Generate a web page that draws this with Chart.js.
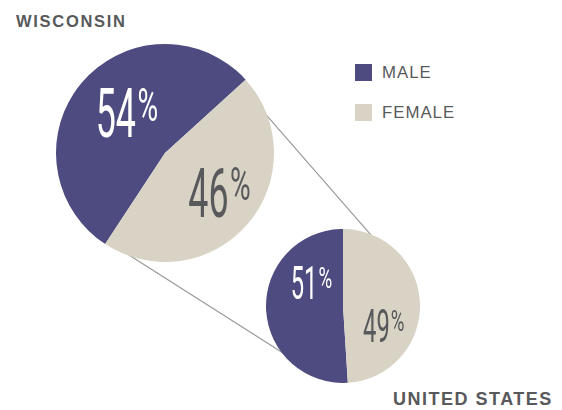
<!DOCTYPE html>
<html>
<head>
<meta charset="utf-8">
<script src="https://cdn.jsdelivr.net/npm/chart.js@4.4.1/dist/chart.umd.min.js"></script>
<style>
  body { margin: 0; background: #fff; }
  #wrap { position: relative; width: 562px; height: 410px; overflow: hidden;
          font-family: 'Liberation Sans', Arial, sans-serif; color: #58595b; }
  canvas { position: absolute; }
  #chartWI { left: 0; top: 0; z-index: 1; }
  #chartUS { left: 266px; top: 229px; z-index: 2; }
  .titulo { position: absolute; font-weight: bold; line-height: 1; white-space: nowrap; }
  .item { position: absolute; left: 355px; height: 17px; white-space: nowrap; }
  .item span.q { position: absolute; left: 0; top: 0; width: 17px; height: 17px; }
  .item span.t { position: absolute; left: 27px; top: 1px; font-size: 16.8px; line-height: 1; letter-spacing: 1px; }
</style>
</head>
<body>
<div id="wrap">
  <canvas id="chartWI" width="562" height="410"></canvas>
  <canvas id="chartUS" width="154" height="154"></canvas>
  <div class="titulo" style="left:16px; top:12.6px; font-size:16.5px; letter-spacing:1.7px;">WISCONSIN</div>
  <div class="titulo" style="left:393px; top:389.8px; font-size:18px; letter-spacing:1.5px;">UNITED STATES</div>
  <div id="legenda"></div>
</div>
<script>
// dados
const categorias = ['MALE', 'FEMALE'];
const wisconsin = [54, 46];
const estadosUnidos = [51, 49];

// estilos
const cores = ['#4d4b80', '#d9d3c6'];
const coresTexto = ['#ffffff', '#58595b'];

// legenda em HTML
const legenda = document.getElementById('legenda');
categorias.forEach((c, i) => {
  const d = document.createElement('div');
  d.className = 'item';
  d.style.top = (64 + i * 40) + 'px';
  d.innerHTML = '<span class="q" style="background:' + cores[i] + '"></span><span class="t">' + c + '</span>';
  legenda.appendChild(d);
});

// desenha "54%" com fonte estreita (escala horizontal)
function desenhaPercentual(ctx, valor, x, y, h, cor) {
  const fs = h / 0.711, fp = fs * 0.66;
  const sx = 0.52, sp = 0.62, gap = h * 0.03;
  ctx.save();
  ctx.fillStyle = cor;
  ctx.textBaseline = 'alphabetic';
  ctx.textAlign = 'left';
  ctx.font = fs + 'px Roboto';
  const wd = ctx.measureText(String(valor)).width * sx;
  ctx.font = fp + 'px Roboto';
  const wp = ctx.measureText('%').width * sp;
  const x0 = x - (wd + gap + wp) / 2;

  ctx.save();
  ctx.translate(x0, y + h / 2);
  ctx.scale(sx, 1);
  ctx.font = fs + 'px Roboto';
  ctx.fillText(String(valor), 0, 0);
  ctx.restore();

  ctx.save();
  ctx.translate(x0 + wd + gap, y - h / 2 + fp * 0.711);
  ctx.scale(sp, 1);
  ctx.font = fp + 'px Roboto';
  ctx.fillText('%', 0, 0);
  ctx.restore();
  ctx.restore();
}

// rótulos dentro das fatias
const rotulos = {
  id: 'rotulos',
  afterDatasetsDraw(chart, args, opts) {
    const ctx = chart.ctx;
    const arc = chart.getDatasetMeta(0).data[0];
    const r = arc.outerRadius;
    chart.data.datasets[0].data.forEach((v, i) => {
      const p = opts.posicoes[i];
      desenhaPercentual(ctx, v, arc.x + p[0] * r, arc.y + p[1] * r, opts.altura, coresTexto[i]);
    });
  }
};

// linhas ligando as duas pizzas
const ligacoes = {
  id: 'ligacoes',
  beforeDatasetsDraw(chart, args, opts) {
    const outro = opts.alvo;
    if (!outro) return;
    const a = chart.getDatasetMeta(0).data[0];
    const b = outro.getDatasetMeta(0).data[0];
    const bx = outro.canvas.offsetLeft + b.x, by = outro.canvas.offsetTop + b.y;
    const ctx = chart.ctx;
    ctx.save();
    ctx.strokeStyle = '#9a9a9a';
    ctx.lineWidth = 1.2;
    opts.angulos.forEach(([a1, a2]) => {
      const t1 = a1 * Math.PI / 180, t2 = a2 * Math.PI / 180;
      ctx.beginPath();
      ctx.moveTo(a.x + Math.cos(t1) * (a.outerRadius - 2), a.y + Math.sin(t1) * (a.outerRadius - 2));
      ctx.lineTo(bx + Math.cos(t2) * (b.outerRadius - 2), by + Math.sin(t2) * (b.outerRadius - 2));
      ctx.stroke();
    });
    ctx.restore();
  }
};

// Estados Unidos (pizza menor)
const graficoUS = new Chart(document.getElementById('chartUS').getContext('2d'), {
  type: 'pie',
  data: {
    labels: categorias,
    datasets: [{ data: estadosUnidos, backgroundColor: cores, borderWidth: 0 }]
  },
  options: {
    responsive: false,
    animation: false,
    rotation: -183.6,
    layout: { padding: 0 },
    plugins: {
      legend: { display: false },
      tooltip: { enabled: false },
      rotulos: { altura: 32.5, posicoes: [[-0.41, -0.30], [0.53, 0.253]] }
    }
  },
  plugins: [rotulos]
});

// Wisconsin (pizza maior)
const graficoWI = new Chart(document.getElementById('chartWI').getContext('2d'), {
  type: 'pie',
  data: {
    labels: categorias,
    datasets: [{ data: wisconsin, backgroundColor: cores, borderWidth: 0 }]
  },
  options: {
    responsive: false,
    animation: false,
    rotation: -146.7,
    layout: { padding: { left: 56, top: 44, right: 288, bottom: 148 } },
    plugins: {
      legend: { display: false },
      tooltip: { enabled: false },
      rotulos: { altura: 49, posicoes: [[-0.35, -0.367], [0.50, 0.358]] },
      ligacoes: { alvo: graficoUS, angulos: [[-22.3, -66.4], [112.4, 139.2]] }
    }
  },
  plugins: [rotulos, ligacoes]
});
</script>
</body>
</html>
